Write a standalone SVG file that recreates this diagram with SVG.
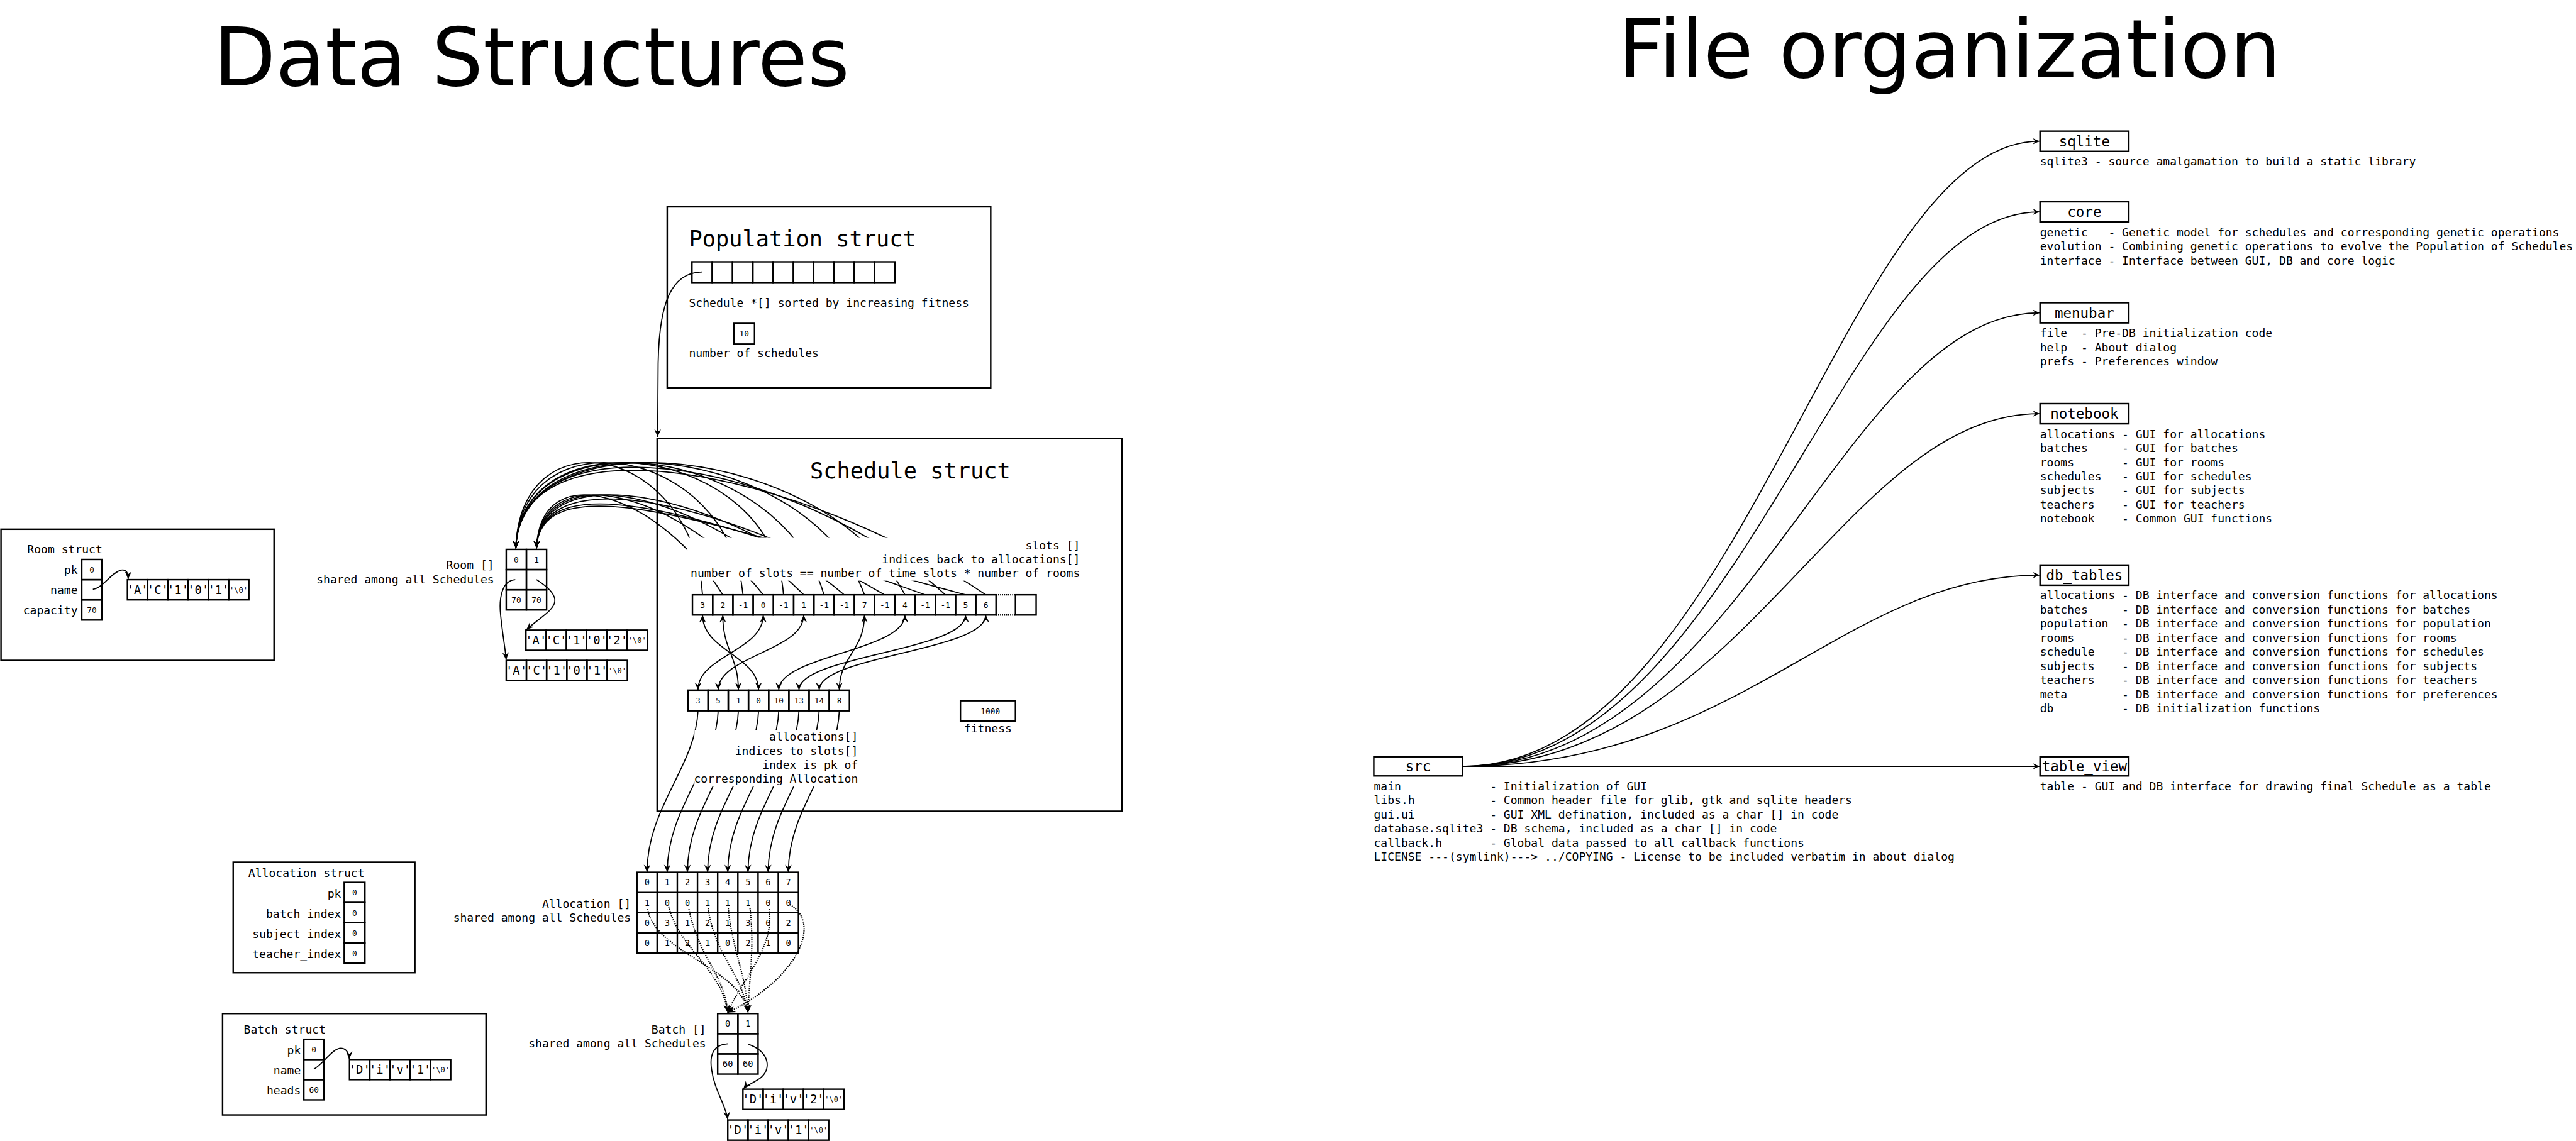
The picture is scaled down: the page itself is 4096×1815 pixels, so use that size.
<svg xmlns="http://www.w3.org/2000/svg" width="4096" height="1815" viewBox="0 0 4096 1815">
<defs>
<style>
.b{fill:none;stroke:#000;stroke-width:3}
.w{fill:#fff;stroke:none}
.t{font-family:"DejaVu Sans Mono",monospace;font-size:22.5px;white-space:pre}
.e{text-anchor:end}
.n{font-family:"DejaVu Sans Mono",monospace;font-size:16px;text-anchor:middle}
.m{font-family:"DejaVu Sans Mono",monospace;font-size:17px;text-anchor:middle}
.q{font-family:"DejaVu Sans Mono",monospace;font-size:23.5px;text-anchor:middle}
.z{font-family:"DejaVu Sans Mono",monospace;font-size:15px;text-anchor:middle}
.h{font-family:"DejaVu Sans Mono",monospace;font-size:44px}
.k{font-family:"DejaVu Sans Mono",monospace;font-size:28px;text-anchor:middle}
.ti{font-family:"DejaVu Sans",sans-serif;font-size:160px}
.ln{fill:none;stroke:#000;stroke-width:2.2}
.dt{fill:none;stroke:#000;stroke-width:2.6;stroke-dasharray:2.2 2.2}
.dl{fill:none;stroke:#000;stroke-width:3;stroke-dasharray:2 2}
</style>
<marker id="ar" viewBox="-16 -8 17 16" refX="0" refY="0" markerWidth="17" markerHeight="16" markerUnits="userSpaceOnUse" orient="auto-start-reverse"><path d="M0,0 L-15,-6.5 L-10,0 L-15,6.5 Z" fill="#000"/></marker>
<marker id="as" viewBox="-14 -7 15 14" refX="0" refY="0" markerWidth="15" markerHeight="14" markerUnits="userSpaceOnUse" orient="auto"><path d="M0,0 L-13,-6 L-9,0 L-13,6 Z" fill="#000"/></marker>
</defs>
<rect width="4096" height="1815" fill="#fff"/>
<g transform="scale(0.80251)" xml:space="preserve">

<g id="titles">
<text class="ti" x="423" y="169">Data Structures</text>
<text class="ti" x="3206" y="153">File organization</text>
</g>

<g id="connectors">
<!-- population pointer -->
<path class="ln" marker-end="url(#ar)" d="M1391,539 C1330,540 1306,600 1304,720 L1303,866"/>
<!-- slots -> rooms -->
<path class="ln" marker-end="url(#ar)" d="M1392,1179 C1372,880 1030,820 1022,1087"/>
<path class="ln" marker-end="url(#ar)" d="M1472.2,1179 C1444,880 1030,820 1022,1087"/>
<path class="ln" marker-end="url(#ar)" d="M1552.4,1179 C1532,880 1030,820 1022,1087"/>
<path class="ln" marker-end="url(#ar)" d="M1632.6,1179 C1546,880 1030,820 1022,1087"/>
<path class="ln" marker-end="url(#ar)" d="M1712.8,1179 C1607,880 1030,820 1022,1087"/>
<path class="ln" marker-end="url(#ar)" d="M1793,1179 C1639,880 1030,820 1022,1087"/>
<path class="ln" marker-end="url(#ar)" d="M1873.2,1179 C1581,910 1030,820 1022,1087"/>
<path class="ln" marker-end="url(#ar)" d="M1953.4,1179 C1587,930 1030,820 1022,1087"/>
<path class="ln" marker-end="url(#ar)" d="M1432.1,1179 C1308,979 1070,900 1063,1087"/>
<path class="ln" marker-end="url(#ar)" d="M1512.3,1179 C1354,979 1070,900 1063,1087"/>
<path class="ln" marker-end="url(#ar)" d="M1592.5,1179 C1393,979 1070,900 1063,1087"/>
<path class="ln" marker-end="url(#ar)" d="M1672.7,1179 C1439,979 1070,900 1063,1087"/>
<path class="ln" marker-end="url(#ar)" d="M1752.9,1179 C1466,1009 1070,900 1063,1087"/>
<path class="ln" marker-end="url(#ar)" d="M1833.1,1179 C1469,1049 1070,900 1063,1087"/>
<path class="ln" marker-end="url(#ar)" d="M1913.3,1179 C1495,1069 1070,900 1063,1087"/>
<!-- allocations <-> slots -->
<path class="ln" marker-start="url(#ar)" marker-end="url(#ar)" d="M1383,1368 C1383,1300 1512.3,1290 1512.3,1219"/>
<path class="ln" marker-start="url(#ar)" marker-end="url(#ar)" d="M1423,1368 C1423,1300 1592.5,1290 1592.5,1219"/>
<path class="ln" marker-start="url(#ar)" marker-end="url(#ar)" d="M1463,1368 C1463,1300 1432.1,1290 1432.1,1219"/>
<path class="ln" marker-start="url(#ar)" marker-end="url(#ar)" d="M1503,1368 C1503,1300 1392,1290 1392,1219"/>
<path class="ln" marker-start="url(#ar)" marker-end="url(#ar)" d="M1543,1368 C1543,1300 1793,1290 1793,1219"/>
<path class="ln" marker-start="url(#ar)" marker-end="url(#ar)" d="M1583,1368 C1583,1300 1913.3,1290 1913.3,1219"/>
<path class="ln" marker-start="url(#ar)" marker-end="url(#ar)" d="M1623,1368 C1623,1300 1953.4,1290 1953.4,1219"/>
<path class="ln" marker-start="url(#ar)" marker-end="url(#ar)" d="M1663,1368 C1663,1300 1712.8,1290 1712.8,1219"/>
<!-- allocations -> Allocation [] -->
<path class="ln" marker-end="url(#ar)" d="M1383,1409 C1378,1520 1282,1600 1282,1729"/>
<path class="ln" marker-end="url(#ar)" d="M1423,1409 C1419,1520 1322,1600 1322,1729"/>
<path class="ln" marker-end="url(#ar)" d="M1463,1409 C1459,1520 1362,1600 1362,1729"/>
<path class="ln" marker-end="url(#ar)" d="M1503,1409 C1499,1520 1402,1600 1402,1729"/>
<path class="ln" marker-end="url(#ar)" d="M1543,1409 C1539,1520 1442,1600 1442,1729"/>
<path class="ln" marker-end="url(#ar)" d="M1583,1409 C1579,1520 1482,1600 1482,1729"/>
<path class="ln" marker-end="url(#ar)" d="M1623,1409 C1619,1520 1522,1600 1522,1729"/>
<path class="ln" marker-end="url(#ar)" d="M1663,1409 C1659,1520 1562,1600 1562,1729"/>
<!-- Room [] name pointers -->
<path class="ln" marker-end="url(#ar)" d="M1063,1149 C1135,1195 1085,1210 1043,1248"/>
<path class="ln" marker-end="url(#ar)" d="M1021,1149 C995,1150 988,1185 992,1220 C996,1260 1001,1285 1003,1308"/>
<!-- Room struct name pointer -->
<path class="ln" marker-end="url(#ar)" d="M184,1168 C205,1165 220,1135 240,1130 C250,1128 254,1135 254,1148"/>
<!-- Batch struct name pointer -->
<path class="ln" marker-end="url(#ar)" d="M622,2119 C640,2110 660,2075 678,2078 C688,2080 692,2090 692,2099"/>
<!-- Batch [] name pointers -->
<path class="ln" marker-end="url(#ar)" d="M1483,2070 C1525,2085 1530,2120 1505,2138 C1490,2148 1478,2152 1473,2158"/>
<path class="ln" marker-end="url(#ar)" d="M1442,2069 C1415,2070 1405,2090 1410,2120 C1415,2160 1438,2190 1442,2219"/>
<!-- batch_index dotted -->
<path class="dt" marker-end="url(#ar)" d="M1283,1802 C1300,1890 1470,1920 1482,2007"/>
<path class="dt" marker-end="url(#ar)" d="M1325,1797 C1345,1880 1430,1920 1442,2007"/>
<path class="dt" marker-end="url(#ar)" d="M1365,1802 C1385,1900 1435,1930 1442,2007"/>
<path class="dt" marker-end="url(#ar)" d="M1403,1800 C1415,1890 1470,1930 1482,2007"/>
<path class="dt" marker-end="url(#ar)" d="M1443,1800 C1450,1880 1478,1930 1482,2007"/>
<path class="dt" marker-end="url(#ar)" d="M1486,1800 C1495,1880 1485,1930 1482,2007"/>
<path class="dt" marker-end="url(#ar)" d="M1524,1802 C1535,1880 1470,1940 1442,2007"/>
<path class="dt" marker-end="url(#ar)" d="M1565,1793 C1630,1830 1580,1940 1442,2007"/>
<!-- file organization -->
<path class="ln" marker-end="url(#as)" d="M2898,1519 C3450,1519 3650,280 4041,280"/>
<path class="ln" marker-end="url(#as)" d="M2898,1519 C3450,1519 3650,420 4041,420"/>
<path class="ln" marker-end="url(#as)" d="M2898,1519 C3450,1519 3650,620 4041,620"/>
<path class="ln" marker-end="url(#as)" d="M2898,1519 C3450,1519 3650,820 4041,820"/>
<path class="ln" marker-end="url(#as)" d="M2898,1519 C3450,1519 3650,1140 4041,1140"/>
<path class="ln" marker-end="url(#as)" d="M2898,1519 L4041,1519"/>
</g>

<g id="population-struct">
<rect class="b" x="1322" y="410" width="641" height="359"/>
<text class="h" x="1365" y="489">Population struct</text>
<rect class="b" x="1371" y="519" width="40.2" height="41"/>
<rect class="b" x="1411.2" y="519" width="40.2" height="41"/>
<rect class="b" x="1451.4" y="519" width="40.2" height="41"/>
<rect class="b" x="1491.6" y="519" width="40.2" height="41"/>
<rect class="b" x="1531.8" y="519" width="40.2" height="41"/>
<rect class="b" x="1572" y="519" width="40.2" height="41"/>
<rect class="b" x="1612.2" y="519" width="40.2" height="41"/>
<rect class="b" x="1652.4" y="519" width="40.2" height="41"/>
<rect class="b" x="1692.6" y="519" width="40.2" height="41"/>
<rect class="b" x="1732.8" y="519" width="40.2" height="41"/>
<text class="t" x="1365" y="608">Schedule *[] sorted by increasing fitness</text>
<rect class="b" x="1454" y="641" width="41" height="41"/>
<text class="n" x="1474.5" y="667">10</text>
<text class="t" x="1365" y="708">number of schedules</text>
</g>

<g id="schedule-struct">
<rect class="b" x="1302" y="869" width="921" height="739"/>
<text class="h" x="1605" y="948">Schedule struct</text>
<rect class="w" x="1362" y="1066" width="782" height="85"/>
<text class="t e" x="2140" y="1089">slots []</text>
<text class="t e" x="2140" y="1117">indices back to allocations[]</text>
<text class="t e" x="2140" y="1144">number of slots == number of time slots * number of rooms</text>
<rect class="b" x="1372" y="1179" width="40.1" height="40"/>
<rect class="b" x="1412.1" y="1179" width="40.1" height="40"/>
<rect class="b" x="1452.2" y="1179" width="40.1" height="40"/>
<rect class="b" x="1492.3" y="1179" width="40.1" height="40"/>
<rect class="b" x="1532.4" y="1179" width="40.1" height="40"/>
<rect class="b" x="1572.5" y="1179" width="40.1" height="40"/>
<rect class="b" x="1612.6" y="1179" width="40.1" height="40"/>
<rect class="b" x="1652.7" y="1179" width="40.1" height="40"/>
<rect class="b" x="1692.8" y="1179" width="40.1" height="40"/>
<rect class="b" x="1732.9" y="1179" width="40.1" height="40"/>
<rect class="b" x="1773" y="1179" width="40.1" height="40"/>
<rect class="b" x="1813.1" y="1179" width="40.1" height="40"/>
<rect class="b" x="1853.2" y="1179" width="40.1" height="40"/>
<rect class="b" x="1893.3" y="1179" width="40.1" height="40"/>
<rect class="b" x="1933.4" y="1179" width="40.1" height="40"/>
<line class="dl" x1="1973.5" y1="1179" x2="2012" y2="1179"/>
<line class="dl" x1="1973.5" y1="1219" x2="2012" y2="1219"/>
<rect class="b" x="2012" y="1179" width="41" height="40"/>
<text class="n" x="1392" y="1205">3</text>
<text class="n" x="1432.1" y="1205">2</text>
<text class="n" x="1472.2" y="1205">-1</text>
<text class="n" x="1512.3" y="1205">0</text>
<text class="n" x="1552.4" y="1205">-1</text>
<text class="n" x="1592.5" y="1205">1</text>
<text class="n" x="1632.6" y="1205">-1</text>
<text class="n" x="1672.7" y="1205">-1</text>
<text class="n" x="1712.8" y="1205">7</text>
<text class="n" x="1752.9" y="1205">-1</text>
<text class="n" x="1793" y="1205">4</text>
<text class="n" x="1833.1" y="1205">-1</text>
<text class="n" x="1873.2" y="1205">-1</text>
<text class="n" x="1913.3" y="1205">5</text>
<text class="n" x="1953.4" y="1205">6</text>
<rect class="b" x="1363" y="1368" width="40" height="41"/>
<rect class="b" x="1403" y="1368" width="40" height="41"/>
<rect class="b" x="1443" y="1368" width="40" height="41"/>
<rect class="b" x="1483" y="1368" width="40" height="41"/>
<rect class="b" x="1523" y="1368" width="40" height="41"/>
<rect class="b" x="1563" y="1368" width="40" height="41"/>
<rect class="b" x="1603" y="1368" width="40" height="41"/>
<rect class="b" x="1643" y="1368" width="40" height="41"/>
<text class="n" x="1383" y="1394.5">3</text>
<text class="n" x="1423" y="1394.5">5</text>
<text class="n" x="1463" y="1394.5">1</text>
<text class="n" x="1503" y="1394.5">0</text>
<text class="n" x="1543" y="1394.5">10</text>
<text class="n" x="1583" y="1394.5">13</text>
<text class="n" x="1623" y="1394.5">14</text>
<text class="n" x="1663" y="1394.5">8</text>
<rect class="w" x="1376" y="1447" width="326" height="112"/>
<text class="t e" x="1700" y="1468">allocations[]</text>
<text class="t e" x="1700" y="1496">indices to slots[]</text>
<text class="t e" x="1700" y="1524">index is pk of</text>
<text class="t e" x="1700" y="1552">corresponding Allocation</text>
<rect class="b" x="1903" y="1389" width="109" height="40"/>
<text class="n" x="1957.5" y="1415">-1000</text>
<text class="t" x="1957.5" y="1452" text-anchor="middle">fitness</text>
</g>

<g id="room-array">
<text class="t e" x="979" y="1128">Room []</text>
<text class="t e" x="979" y="1156">shared among all Schedules</text>
<rect class="b" x="1003" y="1089" width="40" height="40"/>
<rect class="b" x="1043" y="1089" width="40" height="40"/>
<rect class="b" x="1003" y="1129" width="40" height="40"/>
<rect class="b" x="1043" y="1129" width="40" height="40"/>
<rect class="b" x="1003" y="1169" width="40" height="40"/>
<rect class="b" x="1043" y="1169" width="40" height="40"/>
<text class="n" x="1023" y="1115">0</text>
<text class="n" x="1063" y="1115">1</text>
<text class="n" x="1023" y="1195">70</text>
<text class="n" x="1063" y="1195">70</text>
<rect class="b" x="1042" y="1249" width="40.1" height="40"/>
<rect class="b" x="1082.1" y="1249" width="40.1" height="40"/>
<rect class="b" x="1122.2" y="1249" width="40.1" height="40"/>
<rect class="b" x="1162.3" y="1249" width="40.1" height="40"/>
<rect class="b" x="1202.4" y="1249" width="40.1" height="40"/>
<rect class="b" x="1242.5" y="1249" width="40.1" height="40"/>
<text class="q" x="1062" y="1277.5">'A'</text>
<text class="q" x="1102.1" y="1277.5">'C'</text>
<text class="q" x="1142.2" y="1277.5">'1'</text>
<text class="q" x="1182.3" y="1277.5">'0'</text>
<text class="q" x="1222.4" y="1277.5">'2'</text>
<text class="z" x="1262.5" y="1275">'\0'</text>
<rect class="b" x="1003" y="1309" width="40" height="40"/>
<rect class="b" x="1043" y="1309" width="40" height="40"/>
<rect class="b" x="1083" y="1309" width="40" height="40"/>
<rect class="b" x="1123" y="1309" width="40" height="40"/>
<rect class="b" x="1163" y="1309" width="40" height="40"/>
<rect class="b" x="1203" y="1309" width="40" height="40"/>
<text class="q" x="1023" y="1337.5">'A'</text>
<text class="q" x="1063" y="1337.5">'C'</text>
<text class="q" x="1103" y="1337.5">'1'</text>
<text class="q" x="1143" y="1337.5">'0'</text>
<text class="q" x="1183" y="1337.5">'1'</text>
<text class="z" x="1223" y="1335">'\0'</text>
</g>

<g id="room-struct">
<rect class="b" x="2" y="1049" width="541" height="260"/>
<text class="t" x="54" y="1097">Room struct</text>
<rect class="b" x="162" y="1109" width="40" height="40"/>
<rect class="b" x="162" y="1149" width="40" height="40"/>
<rect class="b" x="162" y="1189" width="40" height="40"/>
<text class="t e" x="154" y="1138">pk</text>
<text class="t e" x="154" y="1178">name</text>
<text class="t e" x="154" y="1218">capacity</text>
<text class="n" x="182" y="1135">0</text>
<text class="n" x="182" y="1215">70</text>
<rect class="b" x="252.5" y="1149" width="40.1" height="40"/>
<rect class="b" x="292.6" y="1149" width="40.1" height="40"/>
<rect class="b" x="332.7" y="1149" width="40.1" height="40"/>
<rect class="b" x="372.8" y="1149" width="40.1" height="40"/>
<rect class="b" x="412.9" y="1149" width="40.1" height="40"/>
<rect class="b" x="453" y="1149" width="40.1" height="40"/>
<text class="q" x="272.5" y="1177.5">'A'</text>
<text class="q" x="312.6" y="1177.5">'C'</text>
<text class="q" x="352.7" y="1177.5">'1'</text>
<text class="q" x="392.8" y="1177.5">'0'</text>
<text class="q" x="432.9" y="1177.5">'1'</text>
<text class="z" x="473" y="1175">'\0'</text>
</g>

<g id="allocation-struct">
<rect class="b" x="462" y="1709" width="360" height="219"/>
<text class="t" x="492" y="1738">Allocation struct</text>
<rect class="b" x="682" y="1749" width="41" height="40"/>
<rect class="b" x="682" y="1789" width="41" height="40"/>
<rect class="b" x="682" y="1829" width="41" height="40"/>
<rect class="b" x="682" y="1869" width="41" height="40"/>
<text class="t e" x="676" y="1779">pk</text>
<text class="t e" x="676" y="1819">batch_index</text>
<text class="t e" x="676" y="1859">subject_index</text>
<text class="t e" x="676" y="1899">teacher_index</text>
<text class="n" x="702.5" y="1775">0</text>
<text class="n" x="702.5" y="1815">0</text>
<text class="n" x="702.5" y="1855">0</text>
<text class="n" x="702.5" y="1895">0</text>
</g>

<g id="batch-struct">
<rect class="b" x="441" y="2009" width="522" height="201"/>
<text class="t" x="483" y="2049">Batch struct</text>
<rect class="b" x="602" y="2060" width="40" height="40"/>
<rect class="b" x="602" y="2100" width="40" height="40"/>
<rect class="b" x="602" y="2140" width="40" height="40"/>
<text class="t e" x="596" y="2090">pk</text>
<text class="t e" x="596" y="2130">name</text>
<text class="t e" x="596" y="2169">heads</text>
<text class="n" x="622" y="2086">0</text>
<text class="n" x="622" y="2166">60</text>
<rect class="b" x="692.5" y="2100" width="40.1" height="40"/>
<rect class="b" x="732.6" y="2100" width="40.1" height="40"/>
<rect class="b" x="772.7" y="2100" width="40.1" height="40"/>
<rect class="b" x="812.8" y="2100" width="40.1" height="40"/>
<rect class="b" x="852.9" y="2100" width="40.1" height="40"/>
<text class="q" x="712.5" y="2128.5">'D'</text>
<text class="q" x="752.6" y="2128.5">'i'</text>
<text class="q" x="792.7" y="2128.5">'v'</text>
<text class="q" x="832.8" y="2128.5">'1'</text>
<text class="z" x="872.9" y="2126">'\0'</text>
</g>

<g id="allocation-array">
<text class="t e" x="1250" y="1799">Allocation []</text>
<text class="t e" x="1250" y="1827">shared among all Schedules</text>
<rect class="b" x="1262" y="1729" width="320" height="160"/>
<line class="b" x1="1302" y1="1729" x2="1302" y2="1889"/>
<line class="b" x1="1342" y1="1729" x2="1342" y2="1889"/>
<line class="b" x1="1382" y1="1729" x2="1382" y2="1889"/>
<line class="b" x1="1422" y1="1729" x2="1422" y2="1889"/>
<line class="b" x1="1462" y1="1729" x2="1462" y2="1889"/>
<line class="b" x1="1502" y1="1729" x2="1502" y2="1889"/>
<line class="b" x1="1542" y1="1729" x2="1542" y2="1889"/>
<line class="b" x1="1262" y1="1769" x2="1582" y2="1769"/>
<line class="b" x1="1262" y1="1809" x2="1582" y2="1809"/>
<line class="b" x1="1262" y1="1849" x2="1582" y2="1849"/>
<text class="m" x="1282" y="1755">0</text><text class="m" x="1322" y="1755">1</text><text class="m" x="1362" y="1755">2</text><text class="m" x="1402" y="1755">3</text><text class="m" x="1442" y="1755">4</text><text class="m" x="1482" y="1755">5</text><text class="m" x="1522" y="1755">6</text><text class="m" x="1562" y="1755">7</text>
<text class="m" x="1282" y="1795">1</text><text class="m" x="1322" y="1795">0</text><text class="m" x="1362" y="1795">0</text><text class="m" x="1402" y="1795">1</text><text class="m" x="1442" y="1795">1</text><text class="m" x="1482" y="1795">1</text><text class="m" x="1522" y="1795">0</text><text class="m" x="1562" y="1795">0</text>
<text class="m" x="1282" y="1835">0</text><text class="m" x="1322" y="1835">3</text><text class="m" x="1362" y="1835">1</text><text class="m" x="1402" y="1835">2</text><text class="m" x="1442" y="1835">1</text><text class="m" x="1482" y="1835">3</text><text class="m" x="1522" y="1835">0</text><text class="m" x="1562" y="1835">2</text>
<text class="m" x="1282" y="1875">0</text><text class="m" x="1322" y="1875">1</text><text class="m" x="1362" y="1875">2</text><text class="m" x="1402" y="1875">1</text><text class="m" x="1442" y="1875">0</text><text class="m" x="1482" y="1875">2</text><text class="m" x="1522" y="1875">1</text><text class="m" x="1562" y="1875">0</text>
</g>

<g id="batch-array">
<text class="t e" x="1399" y="2048">Batch []</text>
<text class="t e" x="1399" y="2076">shared among all Schedules</text>
<rect class="b" x="1422" y="2009" width="40" height="40"/>
<rect class="b" x="1462" y="2009" width="40" height="40"/>
<rect class="b" x="1422" y="2049" width="40" height="40"/>
<rect class="b" x="1462" y="2049" width="40" height="40"/>
<rect class="b" x="1422" y="2089" width="40" height="40"/>
<rect class="b" x="1462" y="2089" width="40" height="40"/>
<text class="m" x="1442" y="2035">0</text>
<text class="m" x="1482" y="2035">1</text>
<text class="m" x="1442" y="2115">60</text>
<text class="m" x="1482" y="2115">60</text>
<rect class="b" x="1472" y="2159" width="40" height="40"/>
<rect class="b" x="1512" y="2159" width="40" height="40"/>
<rect class="b" x="1552" y="2159" width="40" height="40"/>
<rect class="b" x="1592" y="2159" width="40" height="40"/>
<rect class="b" x="1632" y="2159" width="40" height="40"/>
<text class="q" x="1492" y="2187.5">'D'</text>
<text class="q" x="1532" y="2187.5">'i'</text>
<text class="q" x="1572" y="2187.5">'v'</text>
<text class="q" x="1612" y="2187.5">'2'</text>
<text class="z" x="1652" y="2185">'\0'</text>
<rect class="b" x="1442" y="2220" width="40" height="40"/>
<rect class="b" x="1482" y="2220" width="40" height="40"/>
<rect class="b" x="1522" y="2220" width="40" height="40"/>
<rect class="b" x="1562" y="2220" width="40" height="40"/>
<rect class="b" x="1602" y="2220" width="40" height="40"/>
<text class="q" x="1462" y="2248.5">'D'</text>
<text class="q" x="1502" y="2248.5">'i'</text>
<text class="q" x="1542" y="2248.5">'v'</text>
<text class="q" x="1582" y="2248.5">'1'</text>
<text class="z" x="1622" y="2246">'\0'</text>
</g>

<g id="src">
<rect class="b" x="2722" y="1500" width="176" height="38"/>
<text class="k" x="2810" y="1529">src</text>
<text class="t" x="2722" y="1566">main             - Initialization of GUI</text>
<text class="t" x="2722" y="1594">libs.h           - Common header file for glib, gtk and sqlite headers</text>
<text class="t" x="2722" y="1622">gui.ui           - GUI XML defination, included as a char [] in code</text>
<text class="t" x="2722" y="1650">database.sqlite3 - DB schema, included as a char [] in code</text>
<text class="t" x="2722" y="1678">callback.h       - Global data passed to all callback functions</text>
<text class="t" x="2722" y="1706">LICENSE ---(symlink)---> ../COPYING - License to be included verbatim in about dialog</text>
</g>

<g id="sqlite">
<rect class="b" x="4042" y="260" width="176" height="40"/>
<text class="k" x="4130" y="290">sqlite</text>
<text class="t" x="4042" y="328">sqlite3 - source amalgamation to build a static library</text>
</g>

<g id="core">
<rect class="b" x="4042" y="400" width="176" height="40"/>
<text class="k" x="4130" y="430">core</text>
<text class="t" x="4042" y="468">genetic   - Genetic model for schedules and corresponding genetic operations</text>
<text class="t" x="4042" y="496">evolution - Combining genetic operations to evolve the Population of Schedules</text>
<text class="t" x="4042" y="524">interface - Interface between GUI, DB and core logic</text>
</g>

<g id="menubar">
<rect class="b" x="4042" y="600" width="176" height="40"/>
<text class="k" x="4130" y="630">menubar</text>
<text class="t" x="4042" y="668">file  - Pre-DB initialization code</text>
<text class="t" x="4042" y="696">help  - About dialog</text>
<text class="t" x="4042" y="724">prefs - Preferences window</text>
</g>

<g id="notebook">
<rect class="b" x="4042" y="800" width="176" height="40"/>
<text class="k" x="4130" y="830">notebook</text>
<text class="t" x="4042" y="868">allocations - GUI for allocations</text>
<text class="t" x="4042" y="896">batches     - GUI for batches</text>
<text class="t" x="4042" y="924">rooms       - GUI for rooms</text>
<text class="t" x="4042" y="952">schedules   - GUI for schedules</text>
<text class="t" x="4042" y="980">subjects    - GUI for subjects</text>
<text class="t" x="4042" y="1008">teachers    - GUI for teachers</text>
<text class="t" x="4042" y="1036">notebook    - Common GUI functions</text>
</g>

<g id="db_tables">
<rect class="b" x="4042" y="1120" width="176" height="40"/>
<text class="k" x="4130" y="1150">db_tables</text>
<text class="t" x="4042" y="1188">allocations - DB interface and conversion functions for allocations</text>
<text class="t" x="4042" y="1216">batches     - DB interface and conversion functions for batches</text>
<text class="t" x="4042" y="1244">population  - DB interface and conversion functions for population</text>
<text class="t" x="4042" y="1272">rooms       - DB interface and conversion functions for rooms</text>
<text class="t" x="4042" y="1300">schedule    - DB interface and conversion functions for schedules</text>
<text class="t" x="4042" y="1328">subjects    - DB interface and conversion functions for subjects</text>
<text class="t" x="4042" y="1356">teachers    - DB interface and conversion functions for teachers</text>
<text class="t" x="4042" y="1384">meta        - DB interface and conversion functions for preferences</text>
<text class="t" x="4042" y="1412">db          - DB initialization functions</text>
</g>

<g id="table_view">
<rect class="b" x="4042" y="1500" width="176" height="38"/>
<text class="k" x="4130" y="1529">table_view</text>
<text class="t" x="4042" y="1566">table - GUI and DB interface for drawing final Schedule as a table</text>
</g>

</g>
</svg>
